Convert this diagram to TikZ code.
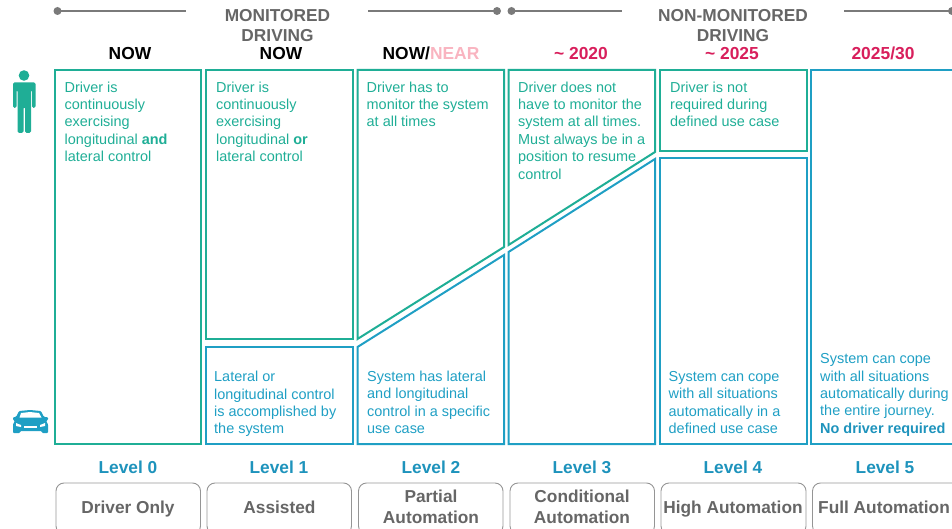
\documentclass[tikz,border=0pt]{standalone}
\usepackage{fontspec}
\setmainfont{Liberation Sans}
\definecolor{tealc}{HTML}{1FAE96}
\definecolor{bluec}{HTML}{1F9FC4}
\definecolor{levelc}{HTML}{1E93BC}
\definecolor{grayc}{HTML}{666666}
\definecolor{linec}{HTML}{7A7A7A}
\definecolor{pinkc}{HTML}{D81F5C}
\definecolor{nearc}{HTML}{F9B4C0}
\tikzset{
 tbox/.style={draw=tealc,line width=2pt,line join=miter},
 bbox/.style={draw=bluec,line width=2pt,line join=miter},
 ttext/.style={anchor=north west,inner sep=0pt,text=tealc,font=\fontsize{14.45}{17.4}\selectfont,align=left},
 btext/.style={anchor=south west,inner sep=0pt,text=bluec,font=\fontsize{14.45}{17.4}\selectfont,align=left},
 era/.style={anchor=base,inner sep=0pt,font=\fontsize{17.4}{20}\bfseries\selectfont,text=black},
 group/.style={anchor=north,inner sep=0pt,font=\fontsize{17.3}{20}\bfseries\selectfont,text=grayc,align=center},
 levelt/.style={anchor=base,inner sep=0pt,font=\fontsize{17.3}{20}\bfseries\selectfont,text=levelc},
 namebox/.style={draw=linec!80,line width=.9pt,rounded corners=8pt},
 namet/.style={inner sep=0pt,font=\fontsize{17.3}{20.7}\bfseries\selectfont,text=grayc,align=center},
 rule/.style={draw=linec,line width=1.6pt},
 dot/.style={circle,fill=linec,inner sep=0pt,minimum size=8pt}
}
\begin{document}
\begin{tikzpicture}[x=1pt,y=-1pt]
\useasboundingbox (0,0) rectangle (952,529);
\clip (0,0) rectangle (952,529);
% timeline rules
\node[dot] (d1) at (57.5,11) {};
\coordinate (e1) at (186,11);
\draw[rule] (d1.center) -- (e1);
\coordinate (e2) at (368,11);
\node[dot] (d2) at (497,11) {};
\draw[rule] (e2) -- (d2.center);
\node[dot] (d3) at (511.5,11) {};
\coordinate (e3) at (622,11);
\draw[rule] (d3.center) -- (e3);
\coordinate (e4) at (844,11);
\node[dot] (d4) at (952,11) {};
\draw[rule] (e4) -- (d4.center);
% group headers
\node[group] (g1) at (277.5,9) {MONITORED\\DRIVING};
\node[group] (g2) at (733,9) {NON-MONITORED\\DRIVING};
% eras
\node[era] (n0) at (130,60) {NOW};
\node[era] (n1) at (281,60) {NOW};
\node[era] (n2) at (431,60) {NOW/\textcolor{nearc}{NEAR}};
\node[era,text=pinkc] (n3) at (581,60) {\textasciitilde{} 2020};
\node[era,text=pinkc] (n4) at (732,60) {\textasciitilde{} 2025};
\node[era,text=pinkc] (n5) at (883,60) {2025/30};
% boxes
\draw[tbox] (54.5,70) rectangle (201,444);
\draw[tbox] (206,70) rectangle (352.5,339);
\draw[bbox] (206,347) rectangle (352.5,444);
\draw[tbox] (357.5,70) -- (504,70) -- (504,247) -- (357.5,339) -- cycle;
\draw[bbox] (357.5,347) -- (504,255) -- (504,444) -- (357.5,444) -- cycle;
\draw[tbox] (508.5,70) -- (655,70) -- (655,152) -- (508.5,245) -- cycle;
\draw[bbox] (508.5,252) -- (655,159) -- (655,444) -- (508.5,444) -- cycle;
\draw[tbox] (660,70) rectangle (806.5,151);
\draw[bbox] (660,158) rectangle (806.5,444);
\draw[bbox] (960,70) -- (811,70) -- (811,444) -- (960,444);
% texts
\node[ttext] (t0) at (64.5,81.5) {Driver is\\continuously\\exercising\\longitudinal \textbf{and}\\lateral control};
\node[ttext] (t1) at (216,81.5) {Driver is\\continuously\\exercising\\longitudinal \textbf{or}\\lateral control};
\node[ttext] (t2) at (366.5,81.5) {Driver has to\\monitor the system\\at all times};
\node[ttext] (t3) at (518,81.5) {Driver does not\\have to monitor the\\system at all times.\\Must always be in a\\position to resume\\control};
\node[ttext] (t4) at (670,81.5) {Driver is not\\required during\\defined use case};
\node[btext] (b1) at (214,437) {Lateral or\\longitudinal control\\is accomplished by\\the system};
\node[btext] (b2) at (367,434) {System has lateral\\and longitudinal\\control in a specific\\use case};
\node[btext] (b4) at (668.5,434) {System can cope\\with all situations\\automatically in a\\defined use case};
\node[btext] (b5) at (820,436.5) {System can cope\\with all situations\\automatically during\\the entire journey.\\\textbf{\textcolor{levelc}{No driver required}}};
% levels
\node[levelt] (l0) at (128,473) {Level 0};
\node[levelt] (l1) at (279,473) {Level 1};
\node[levelt] (l2) at (431,473) {Level 2};
\node[levelt] (l3) at (582,473) {Level 3};
\node[levelt] (l4) at (733,473) {Level 4};
\node[levelt] (l5) at (885,473) {Level 5};
% name boxes
\draw[namebox] (56,483) rectangle (200.5,534);
\draw[namebox] (207,483) rectangle (351.5,534);
\draw[namebox] (358.5,483) rectangle (503,534);
\draw[namebox] (510,483) rectangle (654.5,534);
\draw[namebox] (661,483) rectangle (806,534);
\draw[namebox] (812.5,483) rectangle (965,534);
\node[namet] (m0) at (128,509) {Driver Only};
\node[namet] (m1) at (279.5,507.5) {Assisted};
\node[namet] (m2) at (431,507) {Partial\\Automation};
\node[namet] (m3) at (582,507) {Conditional\\Automation};
\node[namet] (m4) at (733,509) {High Automation};
\node[namet] (m5) at (884,507.5) {Full Automation};
% person icon
\fill[tealc] (24,75.5) circle (5.3);
\fill[tealc,rounded corners=1.5pt] (13,82.5) -- (35.5,82.5) -- (35.5,108) -- (32,108) -- (32,90) -- (31,90) -- (31,133) -- (25,133) -- (25,107) -- (23.5,107) -- (23.5,133) -- (17.5,133) -- (17.5,90) -- (16.5,90) -- (16.5,108) -- (13,108) -- cycle;
% car icon
\fill[bluec,rounded corners=1pt] (13,417) -- (16,417) -- (19,411) -- (30,410) -- (41,411) -- (44,417) -- (48,417) -- (48,420) -- (46,421) -- (48,424) -- (48,433) -- (42,433) -- (42,431) -- (20,431) -- (20,433) -- (13,433) -- (13,424) -- (15,421) -- (13,420) -- cycle;
\fill[white] (19.5,417.5) -- (21,413) -- (30,412) -- (39,413) -- (41.5,417.5) -- cycle;
\fill[white] (16,423) -- (21,425) -- (21,427) -- (16,426) -- cycle;
\fill[white] (45,423) -- (40,425) -- (40,427) -- (45,426) -- cycle;
\fill[white] (24,426) rectangle (37,428);
\end{tikzpicture}
\end{document}
